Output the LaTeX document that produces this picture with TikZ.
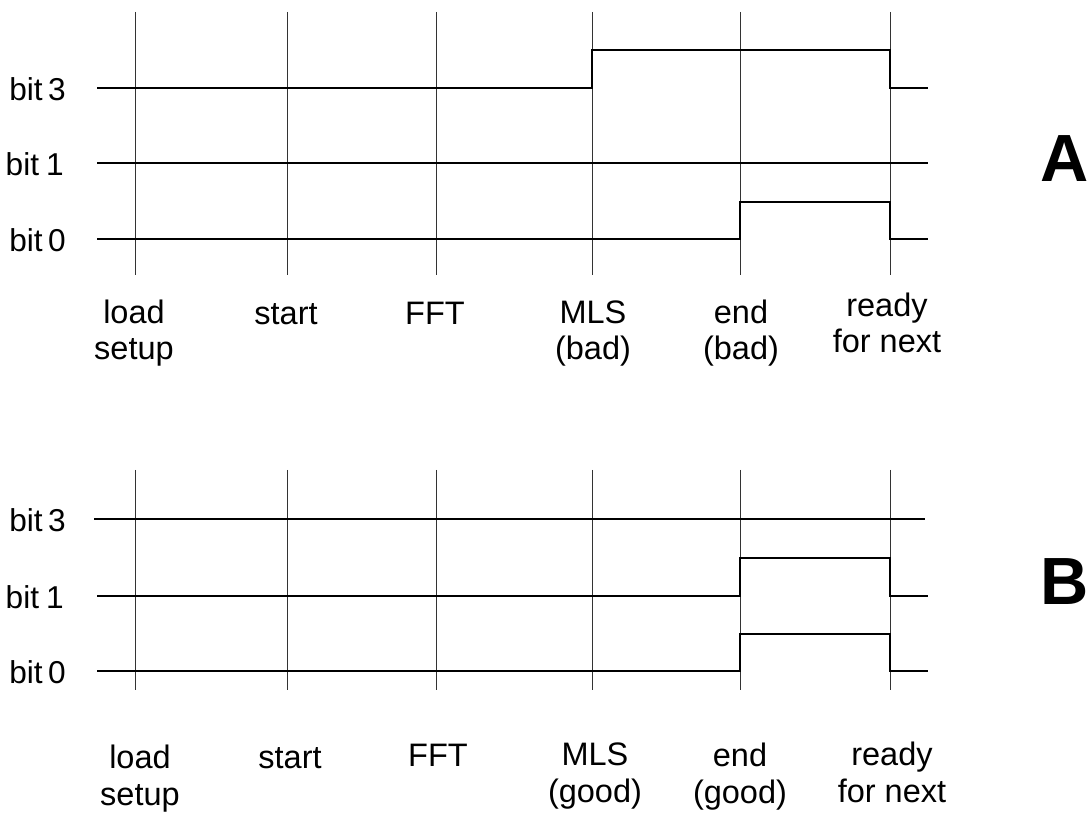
\documentclass[tikz,border=0pt]{standalone}
\usepackage{fontspec}
\setmainfont{Liberation Sans}
\begin{document}
\begin{tikzpicture}[x=0.02cm, y=-0.02cm,
  grid/.style={line width=0.5pt, black!80},
  signal/.style={line width=1.2pt, line join=miter},
  bitlabel/.style={anchor=east, font=\fontsize{18}{21}\selectfont, inner sep=0pt},
  event/.style={align=center, anchor=base, inner sep=0pt,
                font=\fontsize{18.5}{21}\selectfont},
  panel/.style={inner sep=0pt, font=\fontsize{38}{42}\selectfont\bfseries},
]
\useasboundingbox (0,0) rectangle (1090,814);

% --- Panel A ---
\foreach \x in {135,287,436,592,740,890}
  \draw[grid] (\x,12) -- (\x,275);

\node[bitlabel] (a3) at (66,89)  {bit\,3};
\node[bitlabel] (a1) at (64,164) {bit\kern0.22em1};
\node[bitlabel] (a0) at (66,240) {bit\,0};

\draw[signal] (97,88) -- (592,88) -- (592,50) -- (890,50) -- (890,88) -- (928,88);
\draw[signal] (97,163) -- (928,163);
\draw[signal] (97,239) -- (740,239) -- (740,202) -- (890,202) -- (890,239) -- (928,239);

\node[event] (aload)  at (134,360) {load\\setup};
\node[event] (astart) at (286,325) {start};
\node[event] (afft)   at (435,325) {FFT};
\node[event] (amls)   at (593,360) {MLS\\(bad)};
\node[event] (aend)   at (741,360) {end\\(bad)};
\node[event] (aready) at (887,353) {ready\\for next};

\node[panel] (A) at (1065,159) {A};

% --- Panel B ---
\foreach \x in {135,287,436,592,740,890}
  \draw[grid] (\x,470) -- (\x,690);

\node[bitlabel] (b3) at (66,520) {bit\,3};
\node[bitlabel] (b1) at (64,597) {bit\kern0.22em1};
\node[bitlabel] (b0) at (66,672) {bit\,0};

\draw[signal] (94,519) -- (925,519);
\draw[signal] (97,596) -- (740,596) -- (740,558) -- (890,558) -- (890,596) -- (928,596);
\draw[signal] (97,671) -- (740,671) -- (740,634) -- (890,634) -- (890,671) -- (928,671);

\node[event] (bload)  at (140,805) {load\\setup};
\node[event] (bstart) at (290,768) {start};
\node[event] (bfft)   at (438,766) {FFT};
\node[event] (bmls)   at (595,802) {MLS\\(good)};
\node[event] (bend)   at (740,803) {end\\(good)};
\node[event] (bready) at (892,802) {ready\\for next};

\node[panel] (B) at (1065,582) {B};
\end{tikzpicture}
\end{document}
